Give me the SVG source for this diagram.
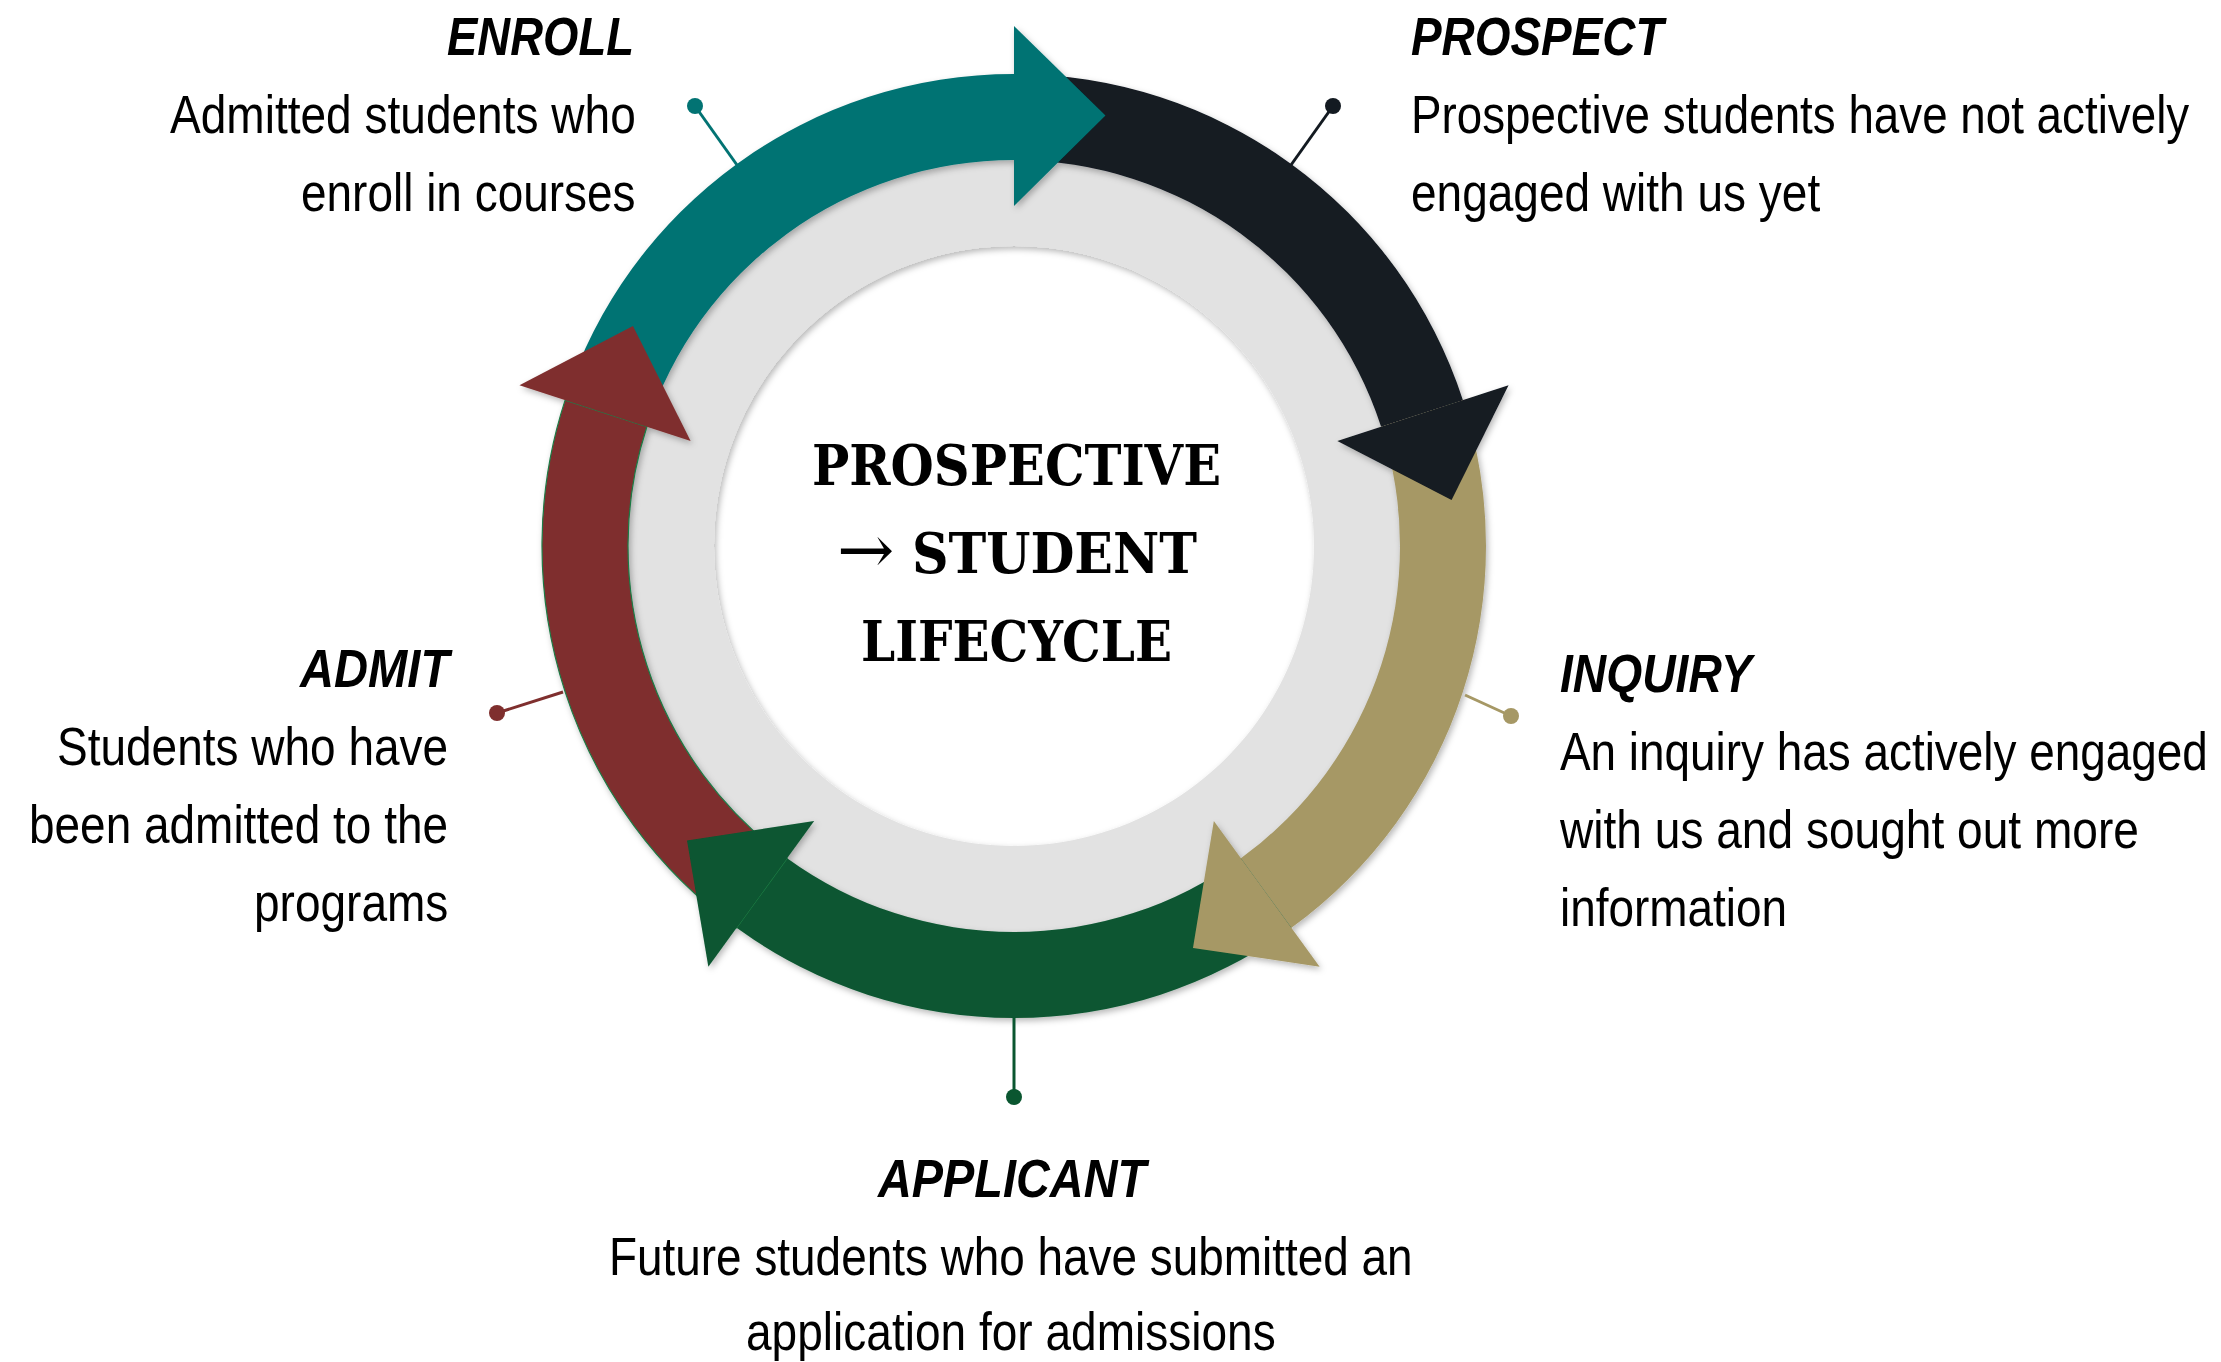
<svg xmlns="http://www.w3.org/2000/svg" width="2221" height="1362" viewBox="0 0 2221 1362">
  <defs>
    <filter id="sh" x="-10%" y="-10%" width="120%" height="120%">
      <feDropShadow dx="2" dy="3" stdDeviation="3" flood-color="#000" flood-opacity="0.28"/>
    </filter>
    <style>
      .title { font-family: "Liberation Sans", Arial, sans-serif; font-size: 54px; font-weight: bold; font-style: italic; fill: #000; }
      .body { font-family: "Liberation Sans", Arial, sans-serif; font-size: 54px; fill: #000; }
      .center { font-family: "DejaVu Serif Condensed", "DejaVu Serif", "Liberation Serif", serif; font-size: 56px; font-weight: bold; fill: #000; }
      .arr { font-family: "DejaVu Serif", serif; font-weight: normal; font-size: 68px; }
      .teal { fill: #027373; }
      .navy { fill: #131a21; }
      .tan { fill: #a69865; }
      .green { fill: #0a5630; }
      .red { fill: #7f2f2e; }
      .lead { stroke-width: 3; fill: none; }
    </style>
  </defs>
  <rect width="2221" height="1362" fill="#ffffff"/>

  <g id="ring" filter="url(#sh)">
    <path d="M1014,156 a390,390 0 1,0 0.01,0 Z M1014,246 a300,300 0 1,1 -0.01,0 Z" fill="#e2e2e2" fill-rule="evenodd"/>
  </g>

  <g id="cycle" filter="url(#sh)">
    <!-- bodies -->
    <path class="teal" d="M565.10,400.14 A472,472 0 0,1 1014,74 L1014,160 A386,386 0 0,0 646.89,426.72 Z"/>
    <path class="navy" d="M1014,74 A472,472 0 0,1 1462.90,400.14 L1381.11,426.72 A386,386 0 0,0 1014,160 Z"/>
    <path class="tan" d="M1462.90,400.14 A472,472 0 0,1 1291.44,927.86 L1240.89,858.28 A386,386 0 0,0 1381.11,426.72 Z"/>
    <path class="green" d="M1291.44,927.86 A472,472 0 0,1 736.56,927.86 L787.11,858.28 A386,386 0 0,0 1240.89,858.28 Z"/>
    <path class="red" stroke="#1d7a45" stroke-width="1.2" d="M736.56,927.86 A472,472 0 0,1 565.10,400.14 L646.89,426.72 A386,386 0 0,0 787.11,858.28 Z"/>
    <!-- heads -->
    <path class="teal" d="M1014,206 L1014,26 L1105.48,115.61 Z"/>
    <path class="navy" d="M1337.36,440.93 L1508.55,385.31 L1451.59,500.01 Z"/>
    <path class="tan" d="M1213.85,821.07 L1319.65,966.69 L1192.97,947.96 Z"/>
    <path class="green" d="M814.15,821.07 L708.35,966.69 L687.02,840.42 Z"/>
    <path class="red" d="M690.64,440.93 L519.45,385.31 L632.95,326 Z"/>
  </g>

  <g id="connectors">
    <g id="lead-enroll"><line class="lead" x1="737" y1="165" x2="695" y2="106" stroke="#027373"/><circle class="teal" cx="695" cy="106" r="8"/></g>
    <g id="lead-prospect"><line class="lead" x1="1291" y1="165" x2="1333" y2="106" stroke="#131a21"/><circle class="navy" cx="1333" cy="106" r="8"/></g>
    <g id="lead-inquiry"><line class="lead" x1="1465" y1="695" x2="1511" y2="716" stroke="#a69865"/><circle class="tan" cx="1511" cy="716" r="8"/></g>
    <g id="lead-applicant"><line class="lead" x1="1014" y1="1017" x2="1014" y2="1097" stroke="#0a5630"/><circle class="green" cx="1014" cy="1097" r="8"/></g>
    <g id="lead-admit"><line class="lead" x1="563" y1="692" x2="497" y2="713" stroke="#7f2f2e"/><circle class="red" cx="497" cy="713" r="8"/></g>
  </g>

  <g id="center-title">
    <text class="center" x="812" y="485" textLength="409" lengthAdjust="spacingAndGlyphs">PROSPECTIVE</text>
    <text class="center" x="837" y="573" textLength="360" lengthAdjust="spacingAndGlyphs"><tspan class="arr">→</tspan> STUDENT</text>
    <text class="center" x="861" y="661" textLength="311" lengthAdjust="spacingAndGlyphs">LIFECYCLE</text>
  </g>

  <g id="node-enroll">
    <text class="title" transform="translate(447,55) scale(0.82,1)" textLength="228" lengthAdjust="spacingAndGlyphs">ENROLL</text>
    <text class="body" transform="translate(170,133) scale(0.82,1)" textLength="568" lengthAdjust="spacingAndGlyphs">Admitted students who</text>
    <text class="body" transform="translate(301,211) scale(0.82,1)" textLength="408" lengthAdjust="spacingAndGlyphs">enroll in courses</text>
  </g>

  <g id="node-prospect">
    <text class="title" transform="translate(1411,55) scale(0.82,1)" textLength="308" lengthAdjust="spacingAndGlyphs">PROSPECT</text>
    <text class="body" transform="translate(1411,133) scale(0.82,1)" textLength="949" lengthAdjust="spacingAndGlyphs">Prospective students have not actively</text>
    <text class="body" transform="translate(1411,211) scale(0.82,1)" textLength="499" lengthAdjust="spacingAndGlyphs">engaged with us yet</text>
  </g>

  <g id="node-inquiry">
    <text class="title" transform="translate(1560,692) scale(0.82,1)" textLength="234" lengthAdjust="spacingAndGlyphs">INQUIRY</text>
    <text class="body" transform="translate(1560,770) scale(0.82,1)" textLength="790" lengthAdjust="spacingAndGlyphs">An inquiry has actively engaged</text>
    <text class="body" transform="translate(1560,848) scale(0.82,1)" textLength="706" lengthAdjust="spacingAndGlyphs">with us and sought out more</text>
    <text class="body" transform="translate(1560,926) scale(0.82,1)" textLength="277" lengthAdjust="spacingAndGlyphs">information</text>
  </g>

  <g id="node-applicant">
    <text class="title" transform="translate(878,1197) scale(0.82,1)" textLength="327" lengthAdjust="spacingAndGlyphs">APPLICANT</text>
    <text class="body" transform="translate(609,1275) scale(0.82,1)" textLength="980" lengthAdjust="spacingAndGlyphs">Future students who have submitted an</text>
    <text class="body" transform="translate(746,1350) scale(0.82,1)" textLength="646" lengthAdjust="spacingAndGlyphs">application for admissions</text>
  </g>

  <g id="node-admit">
    <text class="title" transform="translate(300,687) scale(0.82,1)" textLength="182" lengthAdjust="spacingAndGlyphs">ADMIT</text>
    <text class="body" transform="translate(57,765) scale(0.82,1)" textLength="477" lengthAdjust="spacingAndGlyphs">Students who have</text>
    <text class="body" transform="translate(29,843) scale(0.82,1)" textLength="511" lengthAdjust="spacingAndGlyphs">been admitted to the</text>
    <text class="body" transform="translate(254,921) scale(0.82,1)" textLength="237" lengthAdjust="spacingAndGlyphs">programs</text>
  </g>
</svg>
